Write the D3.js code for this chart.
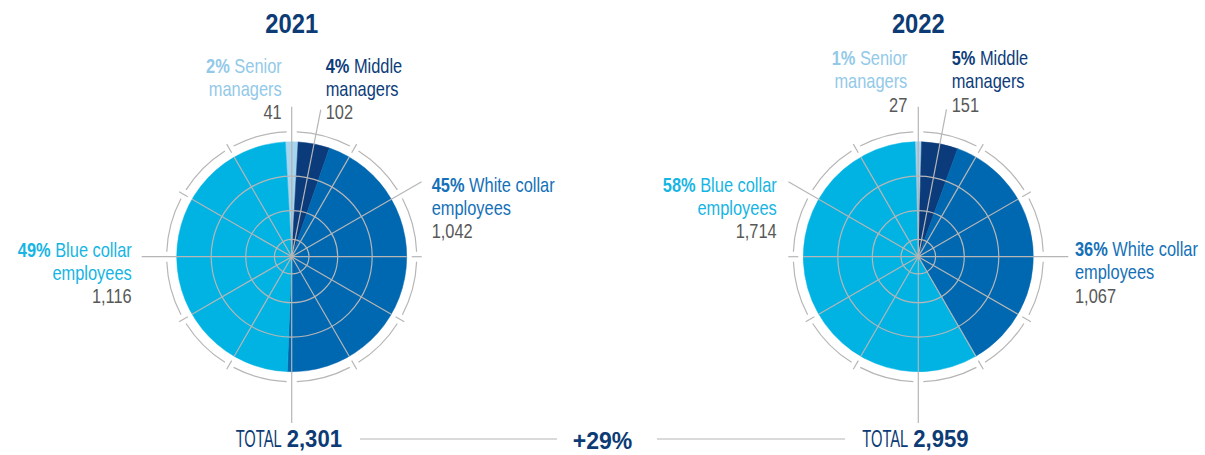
<!DOCTYPE html>
<html>
<head>
<meta charset="utf-8">
<script src="https://cdn.jsdelivr.net/npm/d3@7"></script>
<style>
  html, body { margin: 0; padding: 0; background: #fff; }
  svg { display: block; }
  text { font-family: "Liberation Sans", Arial, sans-serif; }
</style>
</head>
<body>
<svg id="chart" width="1205" height="455"></svg>
<script>
// Workforce by category, two years
const years = ["2021", "2022"];
const categories = ["Senior managers", "Middle managers", "White collar employees", "Blue collar employees"];
const labelLead = ["Senior", "Middle", "White collar", "Blue collar"];
const labelTail = ["managers", "managers", "employees", "employees"];
const values2021 = [41, 102, 1042, 1116];
const values2022 = [27, 151, 1067, 1714];
const percents2021 = [2, 4, 45, 49];
const percents2022 = [1, 5, 36, 58];
const totals = [2301, 2959];
const changeLabel = "+29%";
const gridFractions = [0.15, 0.4, 0.7];

const sliceColors = ["#a6d5ef", "#0b3b7a", "#0067b1", "#00b3e3"];
const textColors  = ["#93c9e8", "#0d3c7a", "#1470b8", "#16b5e3"];
const navy = "#0c3b75", grey = "#585858", gridColor = "#b6b6b6";

const svg = d3.select("#chart");
const R = 115, ringR = 125, leaderR = 150;
const cy = 256.7;
const centers = [291.7, 918.3];
const fmt = d3.format(",");
const rad = deg => deg * Math.PI / 180;
const rScale = d3.scaleLinear().domain([0, 1]).range([0, R]);

// label placement per pie and the leader angle (deg) of the two large groups
const layouts = [
  { top: 72.7, senior: -10, middle: 34,
    white: { dx: 140, y: 191.7, anchor: "start", leader: 60 },
    blue:  { dx: -160, y: 256.7, anchor: "end", leader: 270 } },
  { top: 65, senior: -11, middle: 33.4,
    white: { dx: 156.7, y: 256, anchor: "start", leader: 90 },
    blue:  { dx: -141.6, y: 191.7, anchor: "end", leader: 300 } }
];
const lineH = 23.4;
const narrow = 0.8;   // horizontal squeeze for the condensed lettering

function polar(r, deg) { return [r * Math.sin(rad(deg)), -r * Math.cos(rad(deg))]; }

// text group squeezed horizontally around its anchor point
function squeezed(x, y, sx) {
  return svg.append("g").attr("transform", `translate(${x},${y}) scale(${sx},1)`);
}

function drawLabel(x, y, anchor, idx, pct, val) {
  const t = squeezed(x, y, narrow).append("text").attr("text-anchor", anchor)
    .attr("font-size", 20.5).attr("fill", textColors[idx]);
  const l1 = t.append("tspan").attr("x", 0).attr("y", 0);
  l1.append("tspan").attr("font-weight", "bold").text(pct + "%");
  l1.append("tspan").text(" " + labelLead[idx]);
  t.append("tspan").attr("x", 0).attr("y", lineH).text(labelTail[idx]);
  t.append("tspan").attr("x", 0).attr("y", 2 * lineH).attr("fill", grey).text(fmt(val));
}

[values2021, values2022].forEach((values, i) => {
  const cx = centers[i];
  const pcts = [percents2021, percents2022][i];
  const lay = layouts[i];
  const total = d3.sum(values);
  const half = Math.PI * values[0] / total;   // centre the senior slice on 12 o'clock
  const pie = d3.pie().sort(null).value(d => d)
    .startAngle(-half).endAngle(2 * Math.PI - half);
  const arcs = pie(values);
  const g = svg.append("g").attr("transform", `translate(${cx},${cy})`);

  const arc = d3.arc().innerRadius(0).outerRadius(R);
  g.selectAll("path.slice").data(arcs).join("path")
    .attr("class", "slice")
    .attr("d", arc)
    .attr("fill", (d, k) => sliceColors[k])
    .attr("stroke", (d, k) => sliceColors[k])
    .attr("stroke-width", 0.5);

  // polar grid
  g.selectAll("circle.grid").data(gridFractions).join("circle")
    .attr("class", "grid").attr("r", d => rScale(d))
    .attr("fill", "none").attr("stroke", gridColor).attr("stroke-width", 1.2);
  const spokes = d3.range(0, 360, 30);
  g.selectAll("line.spoke").data(spokes).join("line")
    .attr("class", "spoke")
    .attr("x1", 0).attr("y1", 0)
    .attr("x2", d => polar(R, d)[0]).attr("y2", d => polar(R, d)[1])
    .attr("stroke", gridColor).attr("stroke-width", 1.2);

  // outer ring: arc segments between ticks
  const gap = 2.3;
  spokes.forEach(a => {
    const p = d3.path();
    p.arc(0, 0, ringR, rad(a + gap) - Math.PI / 2, rad(a + 30 - gap) - Math.PI / 2);
    g.append("path").attr("d", p.toString()).attr("fill", "none")
      .attr("stroke", gridColor).attr("stroke-width", 1.2);
  });
  const leaderAngles = [0, 180, lay.white.leader, lay.blue.leader];
  spokes.filter(a => !leaderAngles.includes(a)).forEach(a => {
    const [x1, y1] = polar(120, a), [x2, y2] = polar(130, a);
    g.append("line").attr("x1", x1).attr("y1", y1).attr("x2", x2).attr("y2", y2)
      .attr("stroke", gridColor).attr("stroke-width", 1.2);
  });

  // leaders
  const midMiddle = (arcs[1].startAngle + arcs[1].endAngle) / 2 * 180 / Math.PI;
  const leaders = [
    [0, 0, leaderR],
    [midMiddle, 0, leaderR],
    [lay.white.leader, R, leaderR],
    [lay.blue.leader, R, leaderR],
    [180, R, 423 - cy]
  ];
  leaders.forEach(([a, r0, r1]) => {
    const [x1, y1] = polar(r0, a), [x2, y2] = polar(r1, a);
    g.append("line").attr("x1", x1).attr("y1", y1).attr("x2", x2).attr("y2", y2)
      .attr("stroke", gridColor).attr("stroke-width", 1.2);
  });

  // year title
  squeezed(cx, 33.3, 0.88).append("text").attr("text-anchor", "middle")
    .attr("font-size", 27).attr("font-weight", "bold")
    .attr("fill", navy).text(years[i]);

  // category labels
  drawLabel(cx + lay.senior, lay.top, "end", 0, pcts[0], values[0]);
  drawLabel(cx + lay.middle, lay.top, "start", 1, pcts[1], values[1]);
  drawLabel(cx + lay.white.dx, lay.white.y, lay.white.anchor, 2, pcts[2], values[2]);
  drawLabel(cx + lay.blue.dx, lay.blue.y, lay.blue.anchor, 3, pcts[3], values[3]);

  // total: condensed word, bold figure
  squeezed(cx - 10, 447.3, 0.64).append("text").attr("text-anchor", "end")
    .attr("font-size", 23).attr("fill", navy).text("TOTAL");
  squeezed(cx - 5, 447.3, 0.96).append("text").attr("text-anchor", "start")
    .attr("font-size", 23).attr("font-weight", "bold").attr("fill", navy).text(fmt(totals[i]));
});

// change between years
squeezed(602.5, 449, 0.94).append("text").attr("text-anchor", "middle")
  .attr("font-size", 24.5).attr("font-weight", "bold")
  .attr("fill", navy).text(changeLabel);
[[360, 557], [657, 845]].forEach(([x1, x2]) => {
  svg.append("line").attr("x1", x1).attr("x2", x2).attr("y1", 439).attr("y2", 439)
    .attr("stroke", gridColor).attr("stroke-width", 1.2);
});
</script>
</body>
</html>
